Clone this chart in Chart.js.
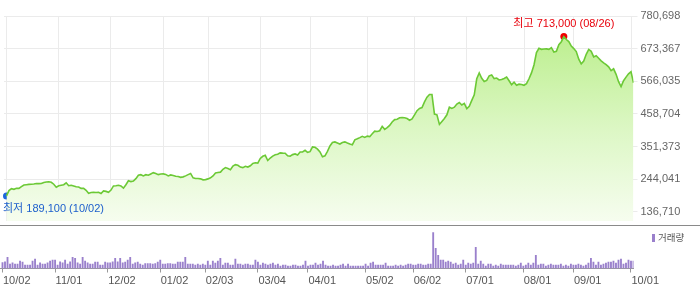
<!DOCTYPE html>
<html>
<head>
<meta charset="utf-8">
<script src="https://cdn.jsdelivr.net/npm/chart.js@4.4.1/dist/chart.umd.min.js"></script>
<style>
  body { margin: 0; background: #fff; }
  #wrap { position: relative; width: 700px; height: 289px; overflow: hidden; }
  canvas { position: absolute; left: 0; }
  #sep { position: absolute; left: 0; top: 225px; width: 700px; height: 1px; background: #8a8a8a; }
  #volLegend { position: absolute; left: 652px; top: 231px; font: 9.5px 'Noto Sans CJK KR', sans-serif; color: #555; line-height: 13px; }
  #volLegend i { display: inline-block; width: 3px; height: 8px; background: #9a80cc; margin-right: 3px; vertical-align: -1px; }
</style>
</head>
<body>
<div id="wrap">
  <canvas id="priceChart" width="700" height="225" style="top:0"></canvas>
  <div id="sep"></div>
  <canvas id="volChart" width="700" height="63" style="top:226px"></canvas>
  <div id="volLegend"><i></i>거래량</div>
</div>
<script>
// x axis: one slot per trading day, month labels at these day indexes
const monthLabels = ['10/02','11/01','12/02','01/02','02/03','03/04','04/01','05/02','06/02','07/01','08/01','09/01','10/01'];
const monthIndex = [0, 21, 42, 63, 81, 102, 122, 145, 164, 185, 208, 228, 251];

// price axis tick values
const priceTicks = [136710, 244041, 351373, 458704, 566035, 673367, 780698];

// daily close (won)
const prices = [
  189100, 206600, 213100, 210800, 214100, 214100, 219500, 225000, 226000, 227000,
  227600, 228200, 229900, 229600, 229900, 233400, 234700, 235700, 234100, 227600,
  218000, 222800, 224400, 226000, 232400, 222800, 224400, 222100, 219200, 218600,
  214100, 214100, 207600, 198000, 200200, 200800, 200500, 201200, 197000, 205700,
  204100, 201200, 208300, 222100, 222800, 224000, 221800, 214700, 226000, 238900,
  236300, 237900, 246000, 257300, 258900, 255000, 258900, 257300, 261500, 265700,
  262700, 259200, 261100, 261500, 259900, 255000, 258300, 256600, 253700, 252800,
  250200, 251800, 255000, 259200, 263000, 248600, 246600, 246200, 245200, 242100,
  242700, 245200, 248600, 255000, 264700, 266300, 267300, 276600, 282400, 279200,
  275300, 287300, 292100, 289800, 284000, 282100, 286600, 284000, 288200, 296200,
  298200, 296900, 312400, 319500, 322700, 305600, 313700, 320200, 324400, 326000,
  330800, 329800, 329500, 321100, 319500, 325000, 327200, 323700, 333700, 333700,
  339200, 332400, 334700, 350200, 349200, 343100, 334000, 317900, 321100, 335700,
  353400, 364700, 366600, 363100, 359800, 364700, 366900, 363100, 359800, 357300,
  373400, 376900, 380800, 385000, 381400, 385700, 384000, 393700, 402100, 401100,
  403400, 417900, 408200, 414000, 421100, 432400, 440100, 441400, 446300, 446900,
  445900, 443700, 437900, 442100, 455600, 469400, 476900, 479800, 498500, 513600,
  522600, 522600, 458100, 455900, 424300, 434000, 443700, 455900, 480800, 476900,
  480800, 491100, 496300, 488200, 493300, 476300, 484000, 503300, 521700, 574300,
  593700, 576000, 565600, 568800, 584000, 586600, 574900, 576600, 570400, 571700,
  575300, 579800, 567800, 554900, 562900, 552700, 556500, 555600, 553000, 558200,
  574300, 593700, 619500, 660400, 674300, 671100, 672000, 672700, 671100, 676500,
  662000, 664600, 686500, 696200, 713000, 703300, 696800, 681700, 673600, 663600,
  638800, 623300, 632300, 654900, 670700, 664600, 646200, 650100, 642000, 633300,
  626900, 621100, 613700, 601100, 607000, 588900, 564700, 548600, 568000, 579800,
  590500, 597500, 561000
];

// daily volume (thousand shares)
const volumes = [
  180, 200, 340, 130, 170, 130, 130, 220, 190, 100,
  100, 100, 220, 280, 100, 170, 130, 130, 170, 220,
  250, 250, 100, 200, 170, 250, 130, 200, 340, 310,
  170, 130, 340, 220, 170, 130, 130, 190, 190, 100,
  100, 190, 170, 170, 200, 310, 200, 310, 170, 190,
  250, 340, 130, 170, 190, 130, 100, 150, 150, 150,
  130, 150, 190, 250, 130, 130, 150, 150, 130, 130,
  190, 190, 190, 340, 130, 130, 130, 100, 130, 100,
  130, 100, 220, 100, 220, 160, 220, 310, 100, 160,
  160, 100, 100, 280, 130, 130, 100, 130, 130, 100,
  100, 250, 190, 100, 160, 130, 100, 130, 160, 100,
  130, 70, 100, 100, 70, 70, 100, 100, 70, 70,
  100, 220, 70, 100, 100, 160, 100, 130, 220, 100,
  70, 70, 100, 70, 70, 100, 130, 70, 130, 70,
  70, 70, 70, 70, 70, 130, 70, 160, 190, 100,
  100, 100, 100, 160, 70, 70, 70, 100, 70, 100,
  70, 100, 130, 130, 100, 100, 130, 130, 100, 100,
  130, 130, 1080, 610, 400, 250, 250, 190, 220, 190,
  130, 160, 100, 130, 250, 100, 160, 130, 160, 640,
  130, 220, 130, 70, 130, 130, 70, 100, 70, 130,
  100, 100, 100, 100, 100, 70, 100, 160, 70, 100,
  160, 100, 160, 400, 100, 130, 130, 70, 100, 130,
  100, 100, 100, 130, 70, 100, 70, 130, 100, 100,
  130, 100, 70, 100, 160, 310, 190, 100, 190, 100,
  130, 160, 190, 190, 220, 160, 250, 280, 130, 160,
  250, 220, 220
];

const hiIdx = prices.indexOf(Math.max(...prices));
const loIdx = prices.indexOf(Math.min(...prices));
const hiLabel = '최고 713,000 (08/26)';
const loLabel = '최저 189,100 (10/02)';

const tickFont = { family: "'Liberation Sans', Arial, sans-serif", size: 11 };
const xMin = -1, xMax = prices.length - 1;

function monthTicks(scale) {
  scale.ticks = monthIndex.map(v => ({ value: v }));
}
function noPad(scale) {
  scale.paddingTop = 0; scale.paddingBottom = 0;
  scale.paddingLeft = 0; scale.paddingRight = 0;
}

// labels next to the high / low markers
const markerLabels = {
  id: 'markerLabels',
  afterDatasetsDraw(chart) {
    const pts = chart.getDatasetMeta(1).data;
    const c = chart.ctx;
    c.save();
    c.font = "11px 'Liberation Sans', 'Noto Sans CJK KR', sans-serif";
    c.textBaseline = 'middle';
    c.fillStyle = '#e8000b';
    c.textAlign = 'center';
    c.fillText(hiLabel, pts[0].x, pts[0].y - 13);
    c.fillStyle = '#1d5fcc';
    c.textAlign = 'left';
    c.fillText(loLabel, pts[1].x - 3.5, pts[1].y + 13);
    c.restore();
  }
};

// month labels under the volume axis, left edge on the tick
const monthTickLabels = {
  id: 'monthTickLabels',
  afterDraw(chart) {
    const xs = chart.scales.x;
    const c = chart.ctx;
    c.save();
    c.font = "11px 'Liberation Sans', Arial, sans-serif";
    c.fillStyle = '#555';
    c.textAlign = 'left';
    c.textBaseline = 'middle';
    monthIndex.forEach((idx, k) => {
      c.fillText(monthLabels[k], xs.getPixelForValue(idx) + 0.5, chart.chartArea.bottom + 12);
    });
    c.restore();
  }
};

new Chart(document.getElementById('priceChart'), {
  type: 'line',
  data: {
    datasets: [{
      data: prices.map((v, i) => ({ x: i, y: v })),
      borderColor: '#6cc936',
      borderWidth: 1.6,
      pointRadius: 0,
      tension: 0,
      fill: 'start',
      backgroundColor(ctx) {
        const area = ctx.chart.chartArea;
        if (!area) return 'rgba(0,0,0,0)';
        const g = ctx.chart.ctx.createLinearGradient(0, area.top, 0, area.bottom);
        g.addColorStop(0, '#b6ed84');
        g.addColorStop(0.55, '#dcf7c4');
        g.addColorStop(1, '#f6fdef');
        return g;
      }
    }, {
      data: [{ x: hiIdx, y: prices[hiIdx] }, { x: loIdx, y: prices[loIdx] }],
      showLine: false,
      pointRadius: 3.5,
      pointBorderWidth: 0,
      pointBackgroundColor: ['#f00000', '#1d66dd'],
      clip: false
    }]
  },
  options: {
    responsive: false,
    animation: false,
    devicePixelRatio: 1,
    layout: { padding: { left: 0, right: 0, top: 16, bottom: 0 } },
    plugins: { legend: { display: false }, tooltip: { enabled: false } },
    scales: {
      x: {
        type: 'linear', min: xMin, max: xMax,
        grid: { color: '#ebebeb', drawTicks: false },
        border: { display: false },
        ticks: { display: false },
        afterBuildTicks: monthTicks,
        afterFit(scale) { scale.height = 0; noPad(scale); }
      },
      y: {
        position: 'right',
        min: 106700, max: 780698,
        grid: { color: '#ebebeb', tickLength: 4 },
        border: { display: false },
        ticks: {
          font: tickFont, color: '#666', padding: 3,
          callback: v => v.toLocaleString('en-US')
        },
        afterBuildTicks(scale) { scale.ticks = priceTicks.map(v => ({ value: v })); },
        afterFit(scale) { scale.width = 66.5; noPad(scale); }
      }
    }
  },
  plugins: [markerLabels]
});

new Chart(document.getElementById('volChart'), {
  type: 'bar',
  data: {
    datasets: [{
      data: volumes.map((v, i) => ({ x: i, y: v })),
      backgroundColor: '#9a80cc',
      barThickness: 1.2
    }]
  },
  options: {
    responsive: false,
    animation: false,
    devicePixelRatio: 1,
    layout: { padding: { left: 0, right: 66.5, top: 0, bottom: 0 } },
    plugins: { legend: { display: false }, tooltip: { enabled: false } },
    scales: {
      x: {
        type: 'linear', min: xMin, max: xMax, offset: false,
        grid: { drawOnChartArea: false, drawTicks: true, tickLength: 4, color: '#999', offset: false },
        border: { display: true, color: '#999' },
        ticks: { display: false },
        afterBuildTicks: monthTicks,
        afterFit(scale) { scale.height = 20.5; noPad(scale); }
      },
      y: { display: false, min: 0, max: 1280 }
    }
  },
  plugins: [monthTickLabels]
});
</script>
</body>
</html>
